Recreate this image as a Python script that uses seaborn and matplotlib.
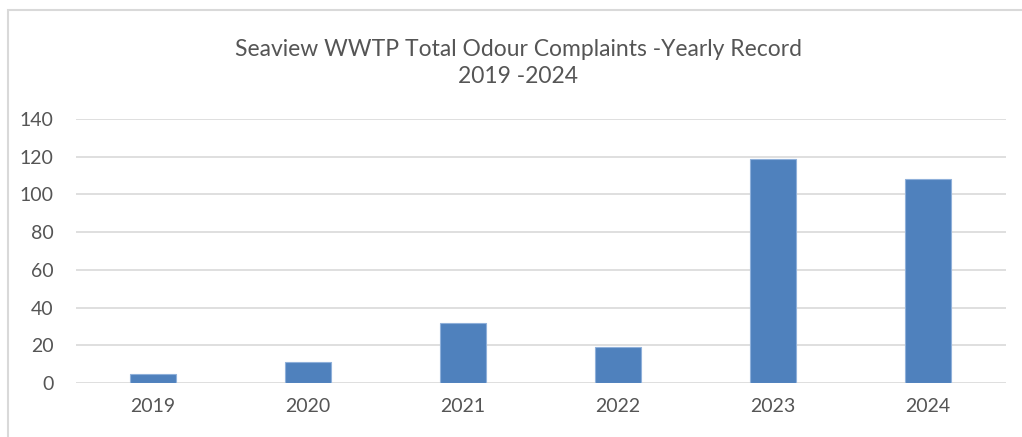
import matplotlib
matplotlib.use('Agg')
import matplotlib.pyplot as plt
import pandas as pd
import seaborn as sns
from matplotlib.patches import Rectangle

years = ['2019', '2020', '2021', '2022', '2023', '2024']
complaints = [5, 11, 32, 19, 119, 108]
title = 'Seaview WWTP Total Odour Complaints -Yearly Record\n2019 -2024'

sns.set_theme(style='white')
plt.rcParams['font.family'] = ['Lato', 'DejaVu Sans']

df = pd.DataFrame({'year': years, 'complaints': complaints})

fig = plt.figure(figsize=(10.22, 4.37), dpi=100)
ax = fig.add_axes([0.0739, 0.1236, 0.9100, 0.6041])

sns.barplot(data=df, x='year', y='complaints', color='#4F81BD', saturation=1,
            width=0.3, edgecolor='#8FB0DA', linewidth=0.8, ax=ax, zorder=3)

ax.set_ylim(0, 140)
ax.set_yticks(range(0, 141, 20))
ax.set_xlim(-0.5, len(years) - 0.5)
ax.grid(axis='y', color='#d9d9d9', linewidth=1.2, zorder=0)
ax.set_axisbelow(True)
for side in ['top', 'right', 'left', 'bottom']:
    ax.spines[side].set_visible(False)
ax.set_xlabel('')
ax.set_ylabel('')
ax.tick_params(axis='both', length=0, labelsize=14, labelcolor='#555555')
ax.tick_params(axis='y', pad=16)
ax.tick_params(axis='x', pad=11)

fig.text(0.507, 0.855, title, ha='center', va='center', fontsize=16.5,
         color='#555555', linespacing=1.35)

# chart area border
fig.patches.append(Rectangle((8 / 1022, -0.1), 1.2, 1 - 10 / 437 + 0.1,
                             transform=fig.transFigure, fill=False,
                             edgecolor='#d9d9d9', linewidth=1.5))

fig.savefig('out.png', dpi=100, facecolor='white')
